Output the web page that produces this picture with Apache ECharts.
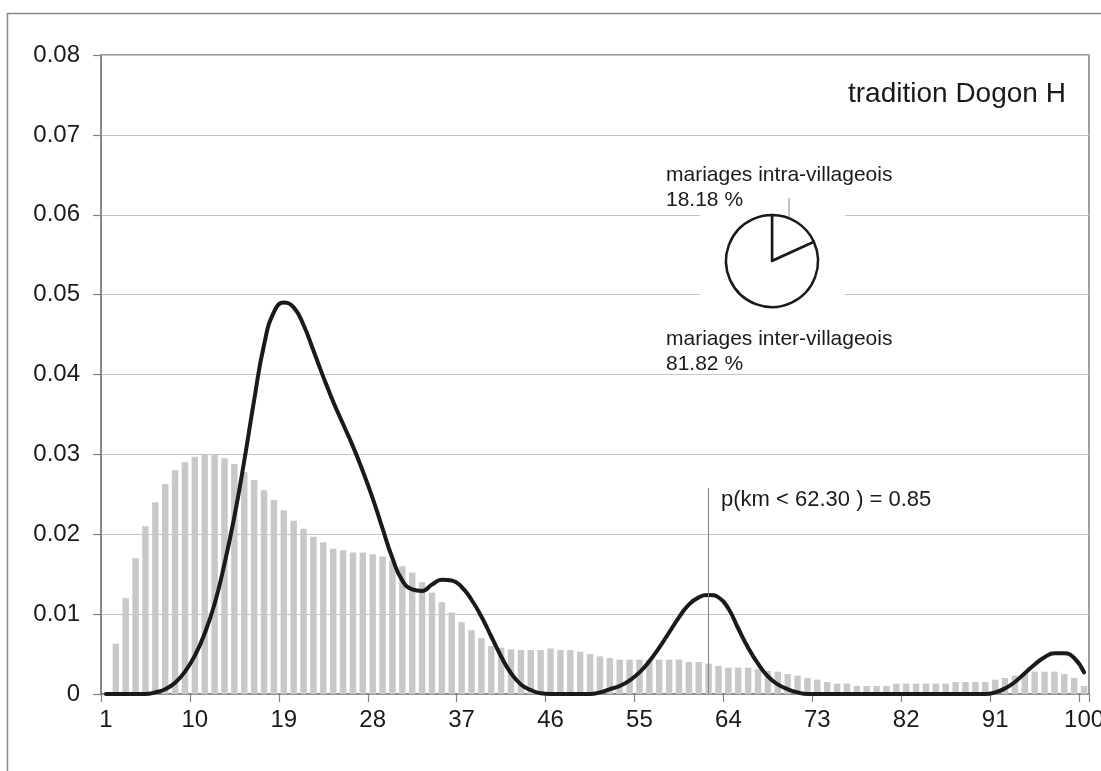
<!DOCTYPE html>
<html>
<head>
<meta charset="utf-8">
<script src="https://cdn.jsdelivr.net/npm/echarts@6/dist/echarts.min.js"></script>
<style>
  html, body { margin: 0; padding: 0; background: #fff; }
  #chart { width: 1101px; height: 771px; }
</style>
</head>
<body>
<div id="chart"></div>
<script>
// Distance classes (km)
const distanceKm = [
  '1','2','3','4','5','6','7','8','9','10',
  '11','12','13','14','15','16','17','18','19','20',
  '21','22','23','24','25','26','27','28','29','30',
  '31','32','33','34','35','36','37','38','39','40',
  '41','42','43','44','45','46','47','48','49','50',
  '51','52','53','54','55','56','57','58','59','60',
  '61','62','63','64','65','66','67','68','69','70',
  '71','72','73','74','75','76','77','78','79','80',
  '81','82','83','84','85','86','87','88','89','90',
  '91','92','93','94','95','96','97','98','99','100'
];

// Reference distribution (grey bars)
const baseDensity = [
  null,  0.0063, 0.0120, 0.0170, 0.0210, 0.0240, 0.0263, 0.0280, 0.0290, 0.0297,
  0.0300, 0.0300, 0.0295, 0.0288, 0.0278, 0.0268, 0.0255, 0.0243, 0.0230, 0.0217,
  0.0207, 0.0197, 0.0190, 0.0182, 0.0180, 0.0177, 0.0177, 0.0175, 0.0172, 0.0167,
  0.0160, 0.0152, 0.0140, 0.0127, 0.0115, 0.0102, 0.0090, 0.0080, 0.0070, 0.0060,
  0.0058, 0.0056, 0.0055, 0.0055, 0.0055, 0.0057, 0.0055, 0.0055, 0.0053, 0.0050,
  0.0047, 0.0045, 0.0043, 0.0043, 0.0043, 0.0043, 0.0043, 0.0043, 0.0043, 0.0040,
  0.0040, 0.0038, 0.0035, 0.0033, 0.0033, 0.0033, 0.0031, 0.0029, 0.0028, 0.0025,
  0.0023, 0.0020, 0.0018, 0.0015, 0.0013, 0.0013, 0.0010, 0.0010, 0.0010, 0.0010,
  0.0013, 0.0013, 0.0013, 0.0013, 0.0013, 0.0013, 0.0015, 0.0015, 0.0015, 0.0015,
  0.0018, 0.0020, 0.0023, 0.0025, 0.0028, 0.0028, 0.0028, 0.0025, 0.0020, 0.0010
];

// Marriage distance density, Dogon tradition (black curve)
const dogonDensity = [
  0,      0,      0,      0,      0,      0.0002, 0.0006, 0.0014, 0.0028, 0.0048,
  0.0076, 0.0113, 0.0163, 0.0222, 0.0292, 0.0368, 0.0437, 0.0478, 0.0490, 0.0484,
  0.0462, 0.0430, 0.0397, 0.0366, 0.0338, 0.0310, 0.0279, 0.0245, 0.0207, 0.0170,
  0.0142, 0.0131, 0.0129, 0.0137, 0.0143, 0.0142, 0.0134, 0.0118, 0.0097, 0.0072,
  0.0047, 0.0026, 0.0012, 0.0005, 0.0001, 0,      0,      0,      0,      0,
  0.0002, 0.0006, 0.0010, 0.0017, 0.0027, 0.0041, 0.0058, 0.0077, 0.0096, 0.0112,
  0.0121, 0.0124, 0.0121, 0.0107, 0.0082, 0.0058, 0.0038, 0.0022, 0.0012, 0.0006,
  0.0002, 0,      0,      0,      0,      0,      0,      0,      0,      0,
  0,      0,      0,      0,      0,      0,      0,      0,      0,      0,
  0.0002, 0.0007, 0.0015, 0.0026, 0.0037, 0.0046, 0.0051, 0.0051, 0.0045, 0.0027
];

// Y-axis tick labels
const yTickLabels = ['0', '0.01', '0.02', '0.03', '0.04', '0.05', '0.06', '0.07', '0.08'];

// Intra- vs inter-village marriages (%)
const marriageTypes = ['mariages intra-villageois', 'mariages inter-villageois'];
const marriageShares = [18.18, 81.82];

// Cumulative probability marker
const cutoffKm = 62.30;
const cutoffCategory = '62';
const cutoffProb = 0.85;
const cutoffLineTop = 0.0258;

const title = 'tradition Dogon H';

const FONT = '"Liberation Sans", Arial, sans-serif';
const INK = '#1a1a1a';
const AXIS_GREY = '#808080';

const chart = echarts.init(document.getElementById('chart'), null, { renderer: 'canvas' });

chart.setOption({
  animation: false,
  backgroundColor: '#ffffff',
  textStyle: { fontFamily: FONT, color: INK },
  grid: {
    left: 101, right: 12, top: 55, bottom: 77,
    outerBoundsMode: 'none',
    containLabel: false,
    show: true, borderColor: AXIS_GREY, borderWidth: 1.5, backgroundColor: 'transparent'
  },
  xAxis: {
    type: 'category',
    data: distanceKm,
    boundaryGap: true,
    axisLine: { lineStyle: { color: AXIS_GREY, width: 1.5 } },
    axisTick: { show: true, interval: 8, length: 8, lineStyle: { color: AXIS_GREY, width: 1.2 } },
    axisLabel: { interval: 8, margin: 14, fontSize: 24, color: INK, fontFamily: FONT, hideOverlap: false },
    splitLine: { show: false }
  },
  yAxis: {
    type: 'value',
    min: 0, max: 0.08, interval: 0.01,
    axisLine: { show: true, lineStyle: { color: AXIS_GREY, width: 1.5 } },
    axisTick: { show: true, length: 8, lineStyle: { color: AXIS_GREY, width: 1.2 } },
    axisLabel: {
      margin: 21, fontSize: 24, color: INK, fontFamily: FONT,
      formatter: function (v, i) { return yTickLabels[i]; }
    },
    splitLine: { show: true, lineStyle: { color: '#c4c4c4', width: 1 } }
  },
  graphic: [
    // outer chart frame
    { type: 'rect', z: -10, silent: true,
      shape: { x: 7.5, y: 13.5, width: 1200, height: 900 },
      style: { fill: 'none', stroke: '#8a8a8a', lineWidth: 1.5 } },
    // blank area behind the pie
    { type: 'rect', z: 1, silent: true,
      shape: { x: 700, y: 200, width: 145, height: 110 },
      style: { fill: '#ffffff' } },
    // leader line to the small slice
    { type: 'line', z: 4, silent: true,
      shape: { x1: 789, y1: 198, x2: 789, y2: 235 },
      style: { stroke: '#8a8a8a', lineWidth: 1 } },
    { type: 'text', z: 5, left: 848, top: 80,
      style: { text: title, font: '28px ' + FONT, fill: INK } },
    { type: 'text', z: 5, left: 666, top: 163,
      style: { text: marriageTypes[0] + '\n' + marriageShares[0].toFixed(2) + ' %',
               font: '21px ' + FONT, fill: INK, lineHeight: 25 } },
    { type: 'text', z: 5, left: 666, top: 327,
      style: { text: marriageTypes[1] + '\n' + marriageShares[1].toFixed(2) + ' %',
               font: '21px ' + FONT, fill: INK, lineHeight: 25 } },
    { type: 'text', z: 5, left: 721, top: 489,
      style: { text: 'p(km < ' + cutoffKm.toFixed(2) + ' ) = ' + cutoffProb.toFixed(2),
               font: '22px ' + FONT, fill: INK } }
  ],
  series: [
    {
      type: 'bar',
      name: 'base',
      data: baseDensity,
      barCategoryGap: '35%',
      itemStyle: { color: '#c8c8c8' },
      z: 2,
      markLine: {
        silent: true,
        symbol: 'none',
        label: { show: false },
        lineStyle: { color: AXIS_GREY, width: 1, type: 'solid' },
        data: [[{ coord: [cutoffCategory, cutoffLineTop] }, { coord: [cutoffCategory, 0] }]]
      }
    },
    {
      type: 'line',
      name: 'Dogon',
      data: dogonDensity,
      smooth: 0.5,
      showSymbol: false,
      symbol: 'none',
      lineStyle: { color: INK, width: 4, join: 'round', cap: 'round' },
      z: 3
    },
    {
      type: 'pie',
      z: 4,
      center: [772, 261],
      radius: 46,
      startAngle: 90,
      clockwise: true,
      silent: true,
      label: { show: false },
      labelLine: { show: false },
      itemStyle: { color: '#ffffff', borderColor: INK, borderWidth: 2.5 },
      data: marriageTypes.map(function (n, i) { return { name: n, value: marriageShares[i] }; })
    }
  ]
});
</script>
</body>
</html>
